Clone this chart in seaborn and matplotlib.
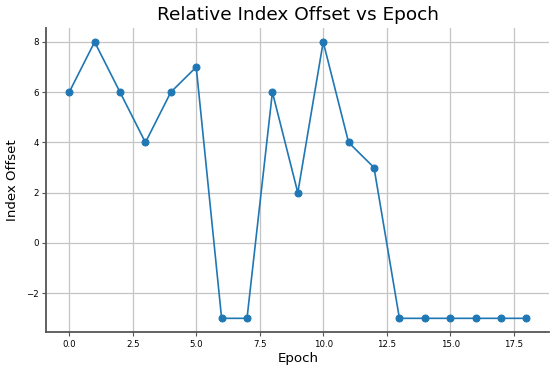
import pandas as pd
import matplotlib
matplotlib.use("Agg")
import matplotlib.pyplot as plt
import seaborn as sns

epochs = list(range(19))
offsets = [6, 8, 6, 4, 6, 7, -3, -3, 6, 2, 8, 4, 3, -3, -3, -3, -3, -3, -3]


def main():
    df = pd.DataFrame({'Epoch': epochs, 'Offset': offsets})

    fig, ax = plt.subplots(figsize=(5.52, 3.65), dpi=100)
    sns.lineplot(data=df, x='Epoch', y='Offset', marker='o', color='#1f77b4',
                 markeredgecolor='#1f77b4', markersize=5, linewidth=1.2, ax=ax)
    ax.grid(True, color='#c4c4c4', linewidth=0.9)
    ax.set_axisbelow(True)
    sns.despine(ax=ax)
    for side in ('left', 'bottom'):
        ax.spines[side].set_color('#555555')
        ax.spines[side].set_linewidth(1.3)
    ax.set_title('Relative Index Offset vs Epoch', fontsize=13.3)
    ax.set_xlabel('Epoch', fontsize=9.6, labelpad=2)
    ax.set_ylabel('Index Offset', fontsize=9.6, labelpad=5)
    ax.tick_params(labelsize=6.2, color='#555555', length=3, pad=2.5)
    fig.subplots_adjust(left=0.084, right=0.995, top=0.923, bottom=0.09)
    fig.savefig('out.png')


if __name__ == '__main__':
    main()
